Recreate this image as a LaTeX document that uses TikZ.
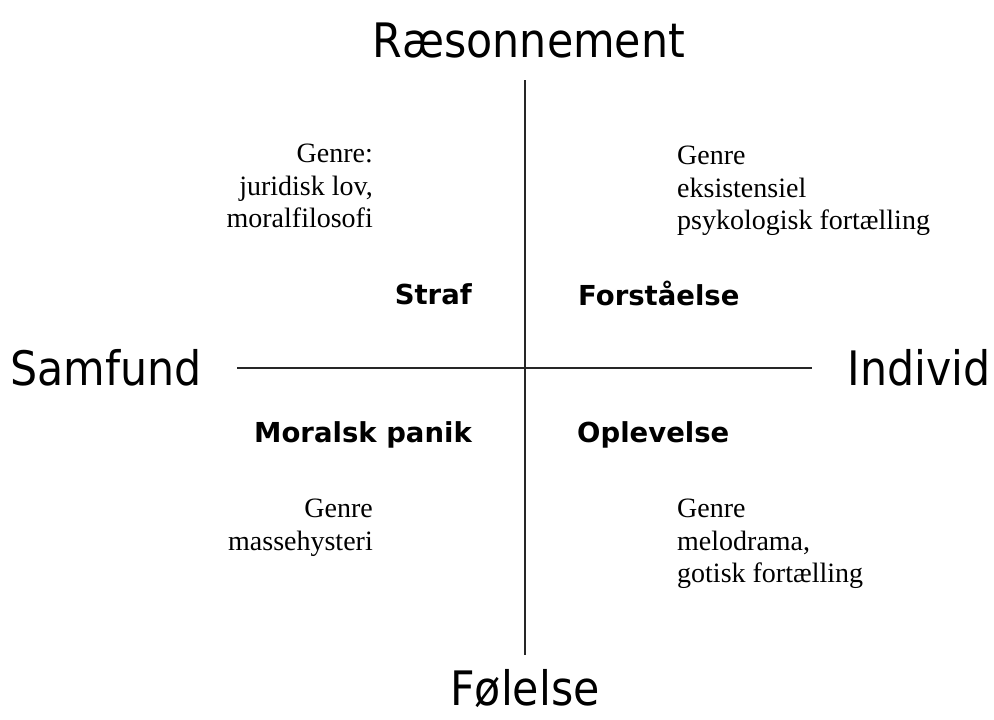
\documentclass[tikz,border=0pt]{standalone}
\usepackage{fontspec}
\setmainfont{Liberation Serif}
\setsansfont{DejaVu Sans}
\newfontfamily\axisfont{DejaVu Sans Condensed}
\usetikzlibrary{positioning}
\tikzset{
  % Axis end labels
  AxL/.style={font=\axisfont\fontsize{47.5}{56}\selectfont,inner sep=0pt},
  % Quadrant titles
  QT/.style={font=\sffamily\bfseries\fontsize{27.5}{32}\selectfont,inner sep=0pt},
  % Genre notes
  GN/.style={font=\fontsize{28}{32.5}\selectfont,inner sep=0pt,align=#1},
  GN/.default=left,
  % Axis lines
  Ax/.style={line width=1.9pt,color=black!85},
}
\begin{document}
\begin{tikzpicture}[x=1pt,y=-1pt]
  \useasboundingbox (0,0) rectangle (994,720);
  % axis ends
  \coordinate (top) at (525,80);
  \coordinate (bot) at (525,655);
  \coordinate (lft) at (237,368);
  \coordinate (rgt) at (812,368);
  \draw[Ax] (top)--(bot);
  \draw[Ax] (lft)--(rgt);
  % axis labels
  \node[AxL,anchor=base] at (529,57) (raes) {Ræsonnement};
  \node[AxL,anchor=base] at (525,705) (fol) {Følelse};
  \node[AxL,anchor=base west] at (10,385) (samf) {Samfund};
  \node[AxL,anchor=base east] at (991,385) (indi) {Individ};
  % quadrants
  \node[QT,anchor=base east] at (472,304) (straf) {Straf};
  \node[QT,anchor=base west] at (578,305) (forst) {Forståelse};
  \node[QT,anchor=base east] at (472,442) (moral) {Moralsk panik};
  \node[QT,anchor=base west] at (577,442) (oplev) {Oplevelse};
  % genre notes
  \node[GN=right,anchor=north east] at (373,144) (g1)
       {Genre:\\juridisk lov,\\moralfilosofi};
  \node[GN,anchor=north west] at (677,146) (g2)
       {Genre\\eksistensiel\\psykologisk fortælling};
  \node[GN=right,anchor=north east] at (373,499) (g3)
       {Genre\\massehysteri};
  \node[GN,anchor=north west] at (677,499) (g4)
       {Genre\\melodrama,\\gotisk fortælling};
\end{tikzpicture}
\end{document}
